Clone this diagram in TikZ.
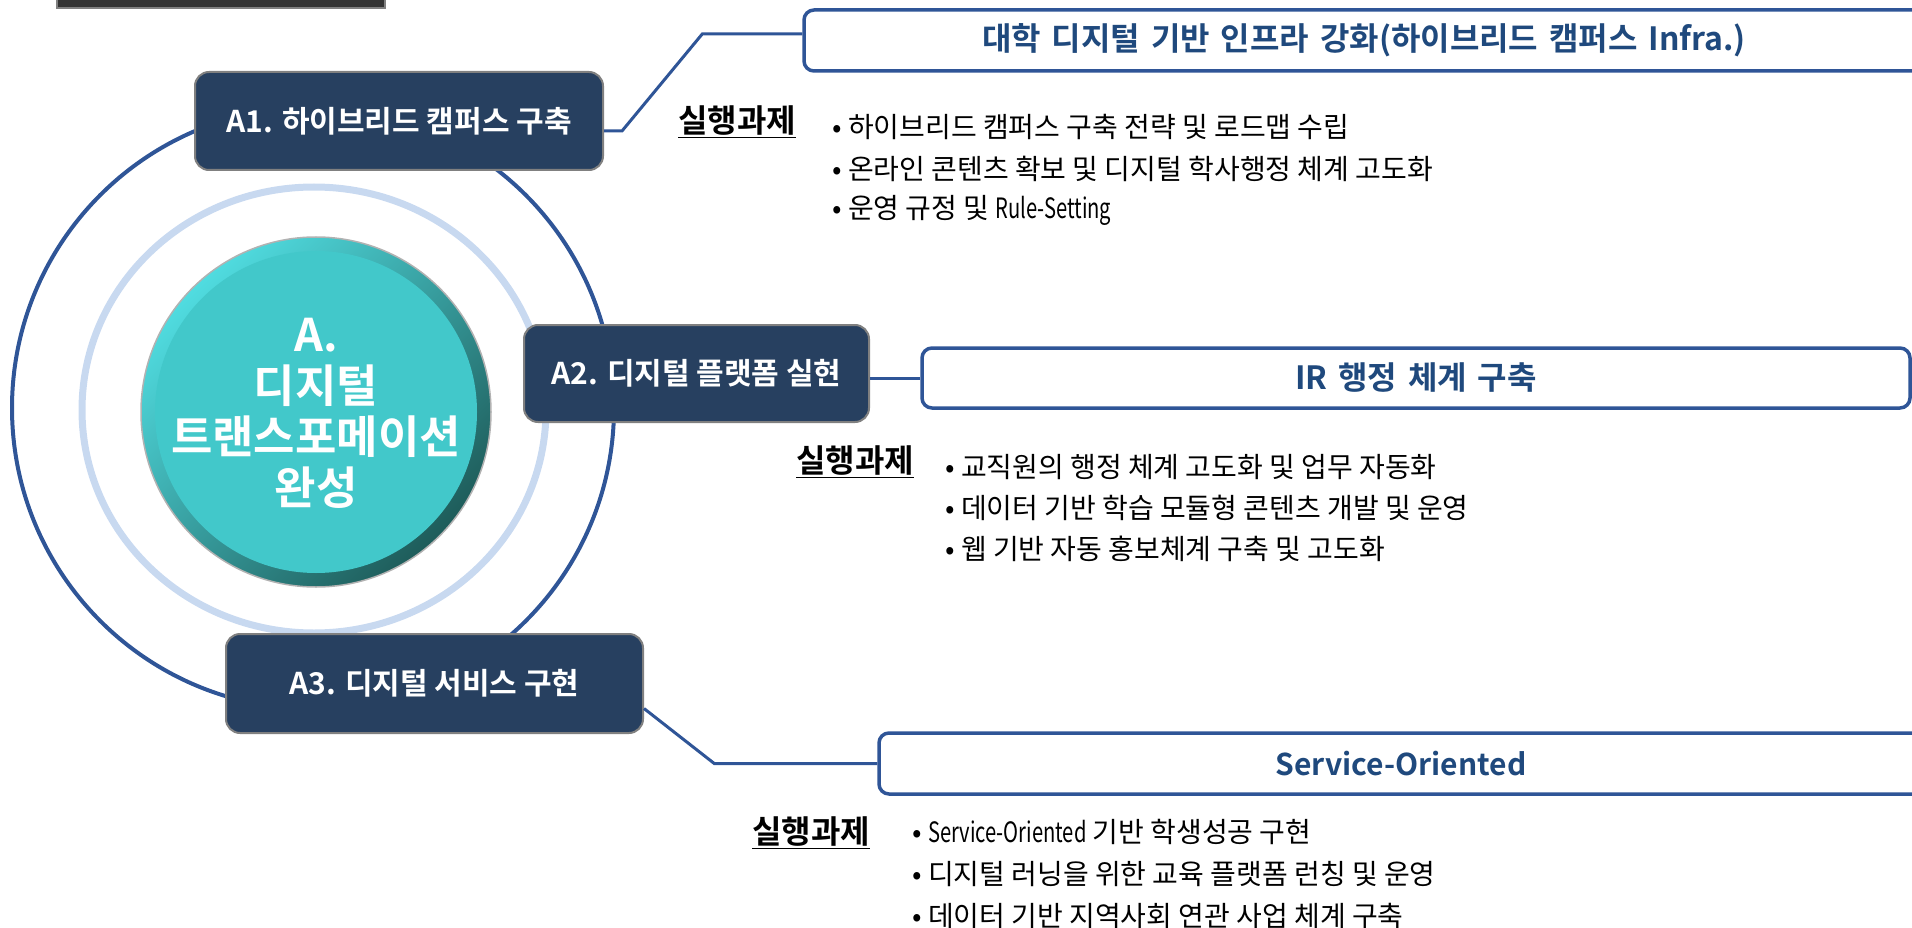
\documentclass[tikz,border=0pt]{standalone}
\usepackage{fontspec}
\setmainfont{Noto Sans CJK KR}[BoldFont={Noto Sans CJK KR Bold}]
\newfontfamily\titlefont{Noto Sans CJK KR Bold}[WordSpace=1.5]
\newfontfamily\narrowfont{Noto Sans CJK KR}[FakeStretch=0.72]

\definecolor{navy}{RGB}{39,64,96}
\definecolor{ringblue}{RGB}{47,85,151}
\definecolor{paleblue}{RGB}{200,217,240}
\definecolor{titleblue}{RGB}{31,73,125}
\definecolor{tealfill}{RGB}{66,200,202}
\definecolor{teallight}{RGB}{80,220,224}
\definecolor{tealmid}{RGB}{52,160,160}
\definecolor{tealdark}{RGB}{30,92,90}
\definecolor{barfill}{RGB}{51,51,51}

\begin{document}
\begin{tikzpicture}[x=1pt,y=-1pt,
  abox/.style={draw=gray,line width=2,fill=navy,rounded corners=14,text=white,
    font=\fontsize{30}{36}\selectfont\bfseries,inner sep=0},
  tbox/.style={draw=ringblue,line width=3.5,fill=white,rounded corners=10,text=titleblue,
    font=\titlefont\fontsize{32}{38}\selectfont,inner sep=0},
  link/.style={draw=ringblue,line width=3},
  task/.style={font=\fontsize{32}{38}\selectfont\bfseries,anchor=west,inner sep=0},
  item/.style={font=\fontsize{28}{32}\selectfont,anchor=west,inner sep=0}]
  \useasboundingbox (0,0) rectangle (1912,928);
  \clip (0,0) rectangle (1912,928);
  % Title bar (cut off)
  \draw[gray,line width=2,fill=barfill] (57,-10) rectangle (385,8);
  % Rings
  \draw[ringblue,line width=4] (313,408) circle[radius=301pt];
  \draw[paleblue,line width=7] (314,410) ellipse[x radius=232pt,y radius=223pt];
  % Centre disc
  \shade[top color=teallight,middle color=tealmid,bottom color=tealdark,shading angle=45] (316,412) circle[radius=175pt];
  \draw[gray!60,line width=1.5] (316,412) circle[radius=175pt];
  \fill[tealfill] (316,412) circle[radius=161pt];
  \node[text=white,font=\fontsize{45}{51}\selectfont\bfseries,align=center] (core) at (316,413)
    {A.\\디지털\\트랜스포메이션\\완성};
  % Sub goals
  \node[abox,minimum width=408,minimum height=98] (a1) at (399,121) {A1. 하이브리드 캠퍼스 구축};
  \node[abox,minimum width=345,minimum height=97] (a2) at (696.5,373.5) {A2. 디지털 플랫폼 실현};
  \node[abox,minimum width=417,minimum height=99] (a3) at (434.5,683.5) {A3. 디지털 서비스 구현};
  % Strategy boxes
  \node[tbox,minimum width=1120,minimum height=61] (t1) at (1364,40.5) {대학 디지털 기반 인프라 강화(하이브리드 캠퍼스 Infra.)};
  \node[tbox,minimum width=988,minimum height=60] (t2) at (1416,378) {IR 행정 체계 구축};
  \node[tbox,minimum width=1044,minimum height=61,font=\titlefont\fontsize{30}{36}\selectfont] (t3) at (1401,763.5) {Service-Oriented};
  % Connectors
  \draw[link] ([yshift=-10]a1.east) -- ++(18,0) -- ([xshift=-100,yshift=6.5]t1.west) -- ([yshift=6.5]t1.west);
  \draw[link] (a2.east |- t2.west) -- (t2.west);
  \draw[link] ([yshift=-25]a3.east) -- ([xshift=-163]t3.west) -- (t3.west);
  % Tasks
  \node[task] (k1) at (678,122) {\underline{실행과제}};
  \node[task] (k2) at (796,462) {\underline{실행과제}};
  \node[task] (k3) at (752,833) {\underline{실행과제}};
  \foreach \txt [count=\i] in {하이브리드 캠퍼스 구축 전략 및 로드맵 수립,
      온라인 콘텐츠 확보 및 디지털 학사행정 체계 고도화, 운영 규정 및 {\narrowfont Rule-Setting}}
    \node[item] (p1-\i) at (832,{127+41.5*(\i-1)}) {• \txt};
  \foreach \txt [count=\i] in {교직원의 행정 체계 고도화 및 업무 자동화,
      데이터 기반 학습 모듈형 콘텐츠 개발 및 운영, 웹 기반 자동 홍보체계 구축 및 고도화}
    \node[item] (p2-\i) at (945,{467+41*(\i-1)}) {• \txt};
  \foreach \txt [count=\i] in {{\narrowfont Service-Oriented} 기반 학생성공 구현,
      디지털 러닝을 위한 교육 플랫폼 런칭 및 운영, 데이터 기반 지역사회 연관 사업 체계 구축}
    \node[item] (p3-\i) at (912,{832+42*(\i-1)}) {• \txt};
\end{tikzpicture}
\end{document}
